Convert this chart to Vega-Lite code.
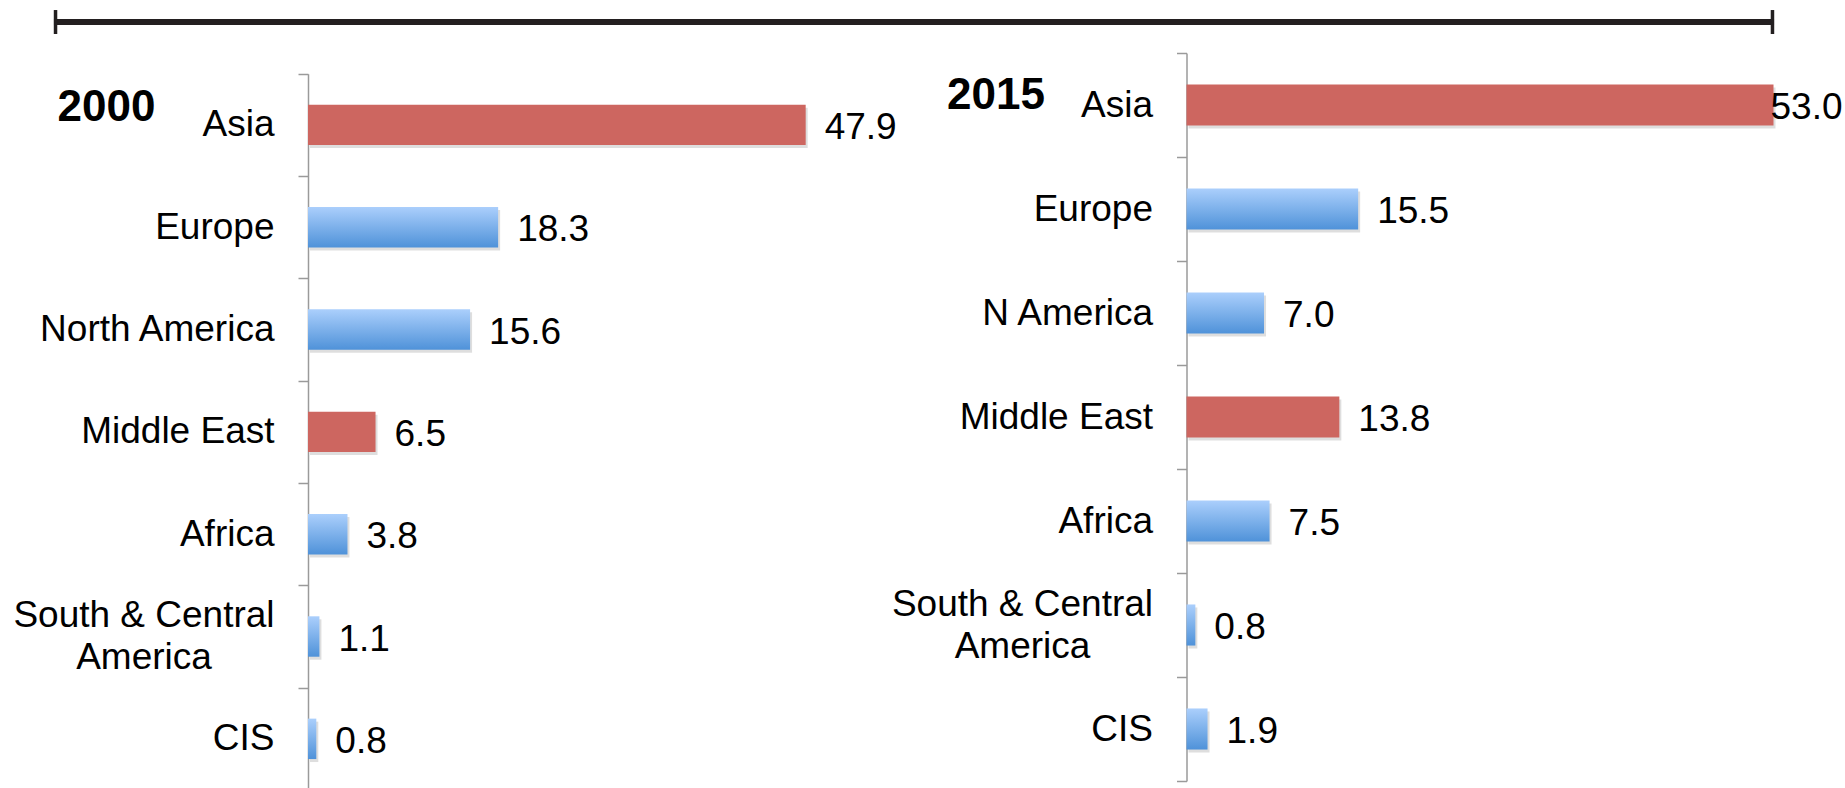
{
  "$schema": "https://vega.github.io/schema/vega-lite/v6.json",
  "background": "white",
  "padding": {"left": 12, "top": 8, "right": 0, "bottom": 0},
  "bounds": "flush",
  "spacing": 358.5,
  "config": {
    "view": {"stroke": null},
    "font": "Liberation Sans",
    "axis": {
      "domainColor": "#9a9a9a", "domainWidth": 1.5,
      "tickColor": "#9a9a9a", "tickWidth": 1.5, "tickSize": 10, "tickBand": "extent",
      "labelFont": "Liberation Sans", "labelFontSize": 37, "labelColor": "#000000",
      "labelLimit": 400, "labelLineHeight": 42, "grid": false,
      "titleFont": "Liberation Sans", "titleFontSize": 44, "titleFontWeight": "bold",
      "titleColor": "#000000", "titleAngle": 0, "titleAlign": "left", "titleBaseline": "alphabetic"
    }
  },
  "datasets": {
    "y2000": [
      {"region": "Asia", "value": 47.9},
      {"region": "Europe", "value": 18.3},
      {"region": "North America", "value": 15.6},
      {"region": "Middle East", "value": 6.5},
      {"region": "Africa", "value": 3.8},
      {"region": "South & Central America", "value": 1.1},
      {"region": "CIS", "value": 0.8}
    ],
    "y2015": [
      {"region": "Asia", "value": 53.0},
      {"region": "Europe", "value": 15.5},
      {"region": "N America", "value": 7.0},
      {"region": "Middle East", "value": 13.8},
      {"region": "Africa", "value": 7.5},
      {"region": "South & Central America", "value": 0.8},
      {"region": "CIS", "value": 1.9}
    ]
  },
  "hconcat": [
    {
      "width": 519.5,
      "height": 737,
      "data": {"name": "y2000"},
      "resolve": {"scale": {"y": "independent"}},
      "layer": [
        {
          "layer": [
            {
              "mark": {"type": "bar", "color": "#000000", "opacity": 0.13, "xOffset": 2, "yOffset": 3, "height": {"band": 0.395}},
              "encoding": {
                "y": {"field": "region", "type": "nominal", "sort": null, "scale": {"range": [20.7, 737], "paddingInner": 0, "paddingOuter": 0},
                      "axis": {"title": "2000", "titleX": -251, "titleY": 67,
                               "labelAlign": {"condition": {"test": "datum.value == 'South & Central America'", "value": "center"}, "value": "right"},
                               "labelPadding": {"condition": {"test": "datum.value == 'South & Central America'", "value": 154.5}, "value": 24},
                               "labelOffset": {"condition": {"test": "datum.value == 'South & Central America'", "value": -21}, "value": 0},
                               "labelExpr": "datum.value == 'South & Central America' ? ['South & Central', 'America'] : datum.label"}},
                "x": {"field": "value", "type": "quantitative", "scale": {"domain": [0, 50], "nice": false}, "axis": null}
              }
            },
            {
              "transform": [{"filter": "datum.region == 'Asia' || datum.region == 'Middle East'"}],
              "mark": {"type": "bar", "color": "#CD6660", "height": {"band": 0.395}},
              "encoding": {
                "y": {"field": "region", "type": "nominal", "sort": null},
                "x": {"field": "value", "type": "quantitative"}
              }
            },
            {
              "transform": [{"filter": "datum.region != 'Asia' && datum.region != 'Middle East'"}],
              "mark": {"type": "bar", "height": {"band": 0.395},
                       "color": {"gradient": "linear", "x1": 0, "y1": 0, "x2": 0, "y2": 1,
                                 "stops": [{"offset": 0, "color": "#ABCFFC"}, {"offset": 1, "color": "#4F92D9"}]}},
              "encoding": {
                "y": {"field": "region", "type": "nominal", "sort": null},
                "x": {"field": "value", "type": "quantitative"}
              }
            },
            {
              "mark": {"type": "text", "align": "left", "baseline": "middle", "dx": 19, "dy": 3, "fontSize": 37, "color": "#000000"},
              "encoding": {
                "y": {"field": "region", "type": "nominal", "sort": null},
                "x": {"field": "value", "type": "quantitative"},
                "text": {"field": "value", "type": "quantitative", "format": ".1f"}
              }
            }
          ]
        },
        {
          "data": {"values": [{}]},
          "layer": [
            {
              "mark": {"type": "rule", "color": "#231F20", "strokeWidth": 6},
              "encoding": {
                "x": {"datum": -24.45, "type": "quantitative"},
                "x2": {"datum": 141.1},
                "y": {"datum": 1.042, "type": "quantitative", "scale": {"domain": [0, 1], "nice": false}, "axis": null}
              }
            },
            {
              "mark": {"type": "rule", "color": "#231F20", "strokeWidth": 3.5},
              "encoding": {
                "x": {"datum": -24.3, "type": "quantitative"},
                "y": {"datum": 1.0583, "type": "quantitative"},
                "y2": {"datum": 1.0258}
              }
            },
            {
              "mark": {"type": "rule", "color": "#231F20", "strokeWidth": 3.5},
              "encoding": {
                "x": {"datum": 140.95, "type": "quantitative"},
                "y": {"datum": 1.0583, "type": "quantitative"},
                "y2": {"datum": 1.0258}
              }
            }
          ]
        }
      ]
    },
    {
      "width": 587,
      "height": 728,
      "data": {"name": "y2015"},
      "layer": [
        {
          "mark": {"type": "bar", "color": "#000000", "opacity": 0.13, "xOffset": 2, "yOffset": 3, "height": {"band": 0.395}},
          "encoding": {
            "y": {"field": "region", "type": "nominal", "sort": null, "scale": {"paddingInner": 0, "paddingOuter": 0},
                  "axis": {"title": "2015", "titleX": -240, "titleY": 55.7,
                           "labelAlign": {"condition": {"test": "datum.value == 'South & Central America'", "value": "center"}, "value": "right"},
                           "labelPadding": {"condition": {"test": "datum.value == 'South & Central America'", "value": 154.5}, "value": 24},
                           "labelOffset": {"condition": {"test": "datum.value == 'South & Central America'", "value": -21}, "value": 0},
                           "labelExpr": "datum.value == 'South & Central America' ? ['South & Central', 'America'] : datum.label"}},
            "x": {"field": "value", "type": "quantitative", "scale": {"domain": [0, 53], "nice": false}, "axis": null}
          }
        },
        {
          "transform": [{"filter": "datum.region == 'Asia' || datum.region == 'Middle East'"}],
          "mark": {"type": "bar", "color": "#CD6660", "height": {"band": 0.395}},
          "encoding": {
            "y": {"field": "region", "type": "nominal", "sort": null},
            "x": {"field": "value", "type": "quantitative"}
          }
        },
        {
          "transform": [{"filter": "datum.region != 'Asia' && datum.region != 'Middle East'"}],
          "mark": {"type": "bar", "height": {"band": 0.395},
                   "color": {"gradient": "linear", "x1": 0, "y1": 0, "x2": 0, "y2": 1,
                             "stops": [{"offset": 0, "color": "#ABCFFC"}, {"offset": 1, "color": "#4F92D9"}]}},
          "encoding": {
            "y": {"field": "region", "type": "nominal", "sort": null},
            "x": {"field": "value", "type": "quantitative"}
          }
        },
        {
          "transform": [{"filter": "datum.region != 'Asia'"}],
          "mark": {"type": "text", "align": "left", "baseline": "middle", "dx": 19, "dy": 3, "fontSize": 37, "color": "#000000"},
          "encoding": {
            "y": {"field": "region", "type": "nominal", "sort": null},
            "x": {"field": "value", "type": "quantitative"},
            "text": {"field": "value", "type": "quantitative", "format": ".1f"}
          }
        },
        {
          "transform": [{"filter": "datum.region == 'Asia'"}],
          "mark": {"type": "text", "align": "left", "baseline": "middle", "dx": -3, "dy": 3, "fontSize": 37, "color": "#000000"},
          "encoding": {
            "y": {"field": "region", "type": "nominal", "sort": null},
            "x": {"field": "value", "type": "quantitative"},
            "text": {"field": "value", "type": "quantitative", "format": ".1f"}
          }
        }
      ]
    }
  ]
}
